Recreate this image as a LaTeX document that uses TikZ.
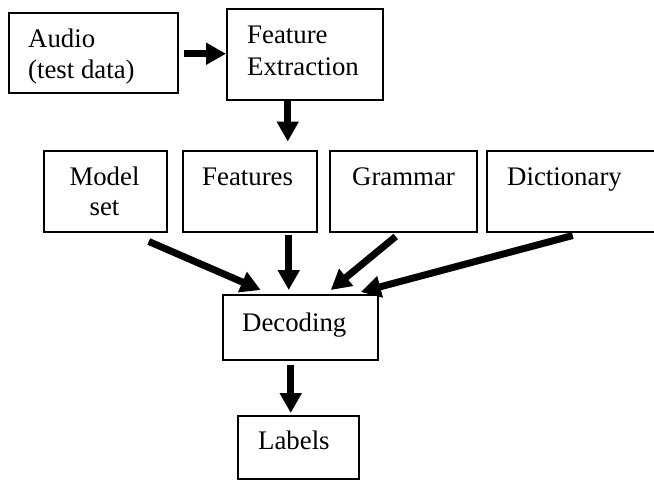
\documentclass[tikz,border=0pt]{standalone}
\usepackage{fontspec}
\setmainfont{Liberation Serif}
\usetikzlibrary{arrows.meta,calc}
\begin{document}
\begin{tikzpicture}[x=1pt,y=-1pt,
  box/.style={draw,line width=1.5pt,anchor=north west,inner sep=0pt},
  txt/.style={font=\fontsize{26.8}{31}\selectfont,inner sep=0pt},
  arr/.style={line width=7pt,-{Triangle[length=20pt,width=21pt]}}]
\useasboundingbox (0,0) rectangle (654,480);
% boxes
\node[box,minimum width=169pt,minimum height=80pt] (audio) at (8,12) {};
\node[box,minimum width=156pt,minimum height=91pt] (fe) at (226,8) {};
\node[box,minimum width=123pt,minimum height=81pt] (model) at (43,150) {};
\node[box,minimum width=134pt,minimum height=81pt] (feat) at (182,150) {};
\node[box,minimum width=147pt,minimum height=81pt] (gram) at (329,150) {};
\node[box,minimum width=180pt,minimum height=81pt] (dict) at (486,150) {};
\node[box,minimum width=155pt,minimum height=65pt] (dec) at (222,294) {};
\node[box,minimum width=121pt,minimum height=63pt] (lab) at (237,415) {};
% texts
\node[txt,anchor=base west] (t1a) at (28,47) {Audio};
\node[txt,anchor=base west] (t1b) at (28,78) {(test data)};
\node[txt,anchor=base west] (t2a) at (247,43) {Feature};
\node[txt,anchor=base west] (t2b) at (247,75) {Extraction};
\node[txt,anchor=base] (t3a) at (104.5,185) {Model};
\node[txt,anchor=base] (t3b) at (104.5,215) {set};
\node[txt,anchor=base west] (t4) at (202,185) {Features};
\node[txt,anchor=base west] (t5) at (352,185) {Grammar};
\node[txt,anchor=base west] (t6) at (507,185) {Dictionary};
\node[txt,anchor=base west] (t7) at (242,331) {Decoding};
\node[txt,anchor=base west] (t8) at (258,449) {Labels};
% arrows
\draw[arr] ($(audio.east)+(5,1)$) coordinate (a1) -- (a1 -| fe.west);
\draw[arr] ($(fe.south)+(-17,0)$) -- ($(fe.south)+(-17,41)$);
\draw[arr] ($(model.south)+(43.5,9)$) -- ($(dec.north)+(-39.5,-4)$);
\draw[arr] ($(feat.south)+(39,2)$) -- ($(dec.north)+(-11.5,-4)$);
\draw[arr] ($(gram.south)+(-7.5,4)$) -- ($(dec.north)+(30.5,-4)$);
\draw[arr] ($(dict.south)+(-4,3)$) -- ($(dec.north)+(60.5,-2)$);
\draw[arr] ($(dec.south)+(-9.5,4)$) -- ($(lab.north)+(-7.5,-2)$);
\end{tikzpicture}
\end{document}
